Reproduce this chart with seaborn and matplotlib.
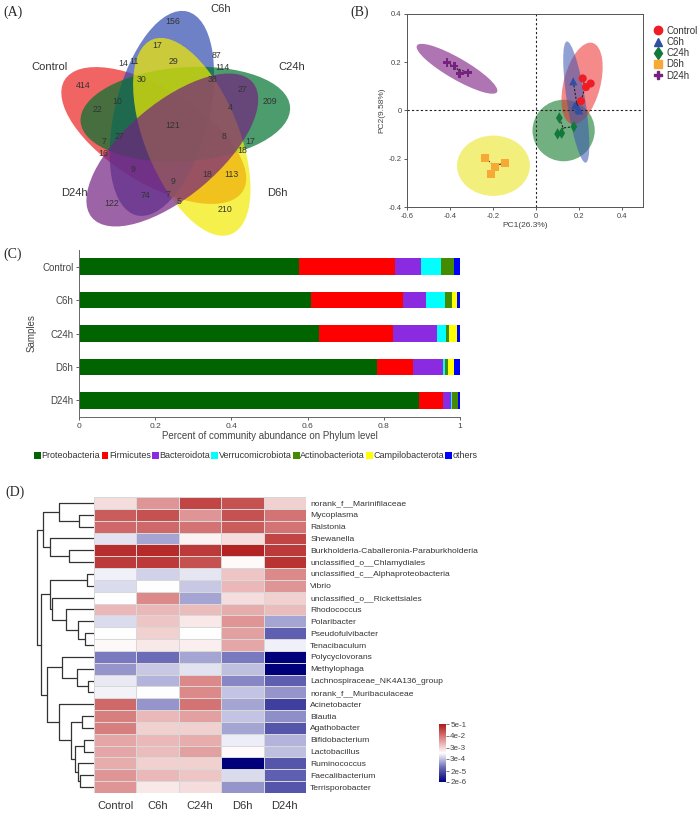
import numpy as np
import pandas as pd
import matplotlib
matplotlib.use('Agg')
import matplotlib.pyplot as plt
import seaborn as sns
from matplotlib.patches import Ellipse, Patch
from matplotlib.lines import Line2D
from matplotlib.colors import LinearSegmentedColormap

sns.set_style('white')
plt.rcParams['font.family'] = ['Liberation Sans', 'DejaVu Sans']

# ---------------- data ----------------
groups = ['Control', 'C6h', 'C24h', 'D6h', 'D24h']

# (A) venn counts
venn_counts = [156, 17, 87, 14, 11, 29, 114, 414, 30, 38, 27, 209, 22, 10, 4, 121, 8,
               27, 7, 17, 16, 18, 9, 18, 113, 9, 74, 7, 5, 122, 210]
venn_pos = [(173, 22), (157, 45), (216, 55), (123, 64), (134, 62), (173, 62), (222, 67),
            (83, 85), (142, 79), (213, 79), (242, 90), (270, 102), (97, 110), (117, 101),
            (230, 107), (173, 125), (224, 136), (119, 136), (104, 141), (250, 141),
            (103, 153), (242, 150), (133, 169), (207, 174), (231, 174), (173, 181),
            (145, 195), (168, 194), (179, 201), (112, 203), (225, 209)]
venn_label_pos = [(49, 67), (221, 9), (292, 67), (277, 193), (74, 193)]
venn_dirs = [162, 90, 18, -54, -126]
venn_colors = ['#eb2323', '#304baf', '#007330', '#f2eb00', '#732380']

# (B) PCoA
pc1 = {'Control': [0.219, 0.234, 0.256, 0.211],
       'C6h': [0.175, 0.183, 0.198, 0.203],
       'C24h': [0.110, 0.178, 0.102, 0.121],
       'D6h': [-0.236, -0.143, -0.189, -0.209],
       'D24h': [-0.414, -0.380, -0.355, -0.316]}
pc2 = {'Control': [0.133, 0.097, 0.112, 0.039],
       'C6h': [0.121, 0.021, 0.007, 0.0],
       'C24h': [-0.031, -0.067, -0.097, -0.094],
       'D6h': [-0.197, -0.218, -0.236, -0.264],
       'D24h': [0.199, 0.185, 0.153, 0.157]}
# ellipse: centre x, centre y, major, minor, angle
pc_ellipses = {'C24h': (0.13, -0.083, 0.29, 0.255, 0),
               'D6h': (-0.197, -0.229, 0.34, 0.25, 0),
               'D24h': (-0.367, 0.173, 0.42, 0.09, -27),
               'Control': (0.216, 0.112, 0.35, 0.17, 73),
               'C6h': (0.189, 0.035, 0.51, 0.085, 100)}
pt_colors = {'Control': '#ee1c25', 'C6h': '#2e4fa3', 'C24h': '#13793a', 'D6h': '#f7a935', 'D24h': '#76237f'}
ell_colors = {'Control': '#eb2b2b', 'C6h': '#3955b1', 'C24h': '#00701a', 'D6h': '#e9e311', 'D24h': '#6e0373'}
markers = {'Control': 'o', 'C6h': '^', 'C24h': 'd', 'D6h': 's', 'D24h': 'P'}

# (C) phylum composition
phyla = ['Proteobacteria', 'Firmicutes', 'Bacteroidota', 'Verrucomicrobiota',
         'Actinobacteriota', 'Campilobacterota', 'others']
phylum_colors = ['#006400', '#ff0000', '#8a2be2', '#00ffff', '#458b00', '#ffff00', '#0000ff']
proteo = [0.577, 0.608, 0.630, 0.783, 0.893]
firmi = [0.252, 0.242, 0.195, 0.093, 0.063]
bactero = [0.068, 0.062, 0.114, 0.080, 0.020]
verruco = [0.052, 0.049, 0.024, 0.005, 0.002]
actino = [0.035, 0.019, 0.008, 0.008, 0.016]
campilo = [0.0, 0.011, 0.020, 0.016, 0.0]
others = [0.016, 0.009, 0.009, 0.015, 0.006]

# (D) genus heatmap, log10 relative abundance
genera = ['norank_f__Marinifilaceae', 'Mycoplasma', 'Ralstonia', 'Shewanella',
          'Burkholderia-Caballeronia-Paraburkholderia', 'unclassified_o__Chlamydiales',
          'unclassified_c__Alphaproteobacteria', 'Vibrio', 'unclassified_o__Rickettsiales',
          'Rhodococcus', 'Polaribacter', 'Pseudofulvibacter', 'Tenacibaculum',
          'Polycyclovorans', 'Methylophaga', 'Lachnospiraceae_NK4A136_group',
          'norank_f__Muribaculaceae', 'Acinetobacter', 'Blautia', 'Agathobacter',
          'Bifidobacterium', 'Lactobacillus', 'Ruminococcus', 'Faecalibacterium',
          'Terrisporobacter']
log_abund = [
    [-2.60, -1.79, -0.84, -0.98, -2.46],
    [-1.11, -0.98, -1.79, -0.98, -1.38],
    [-1.25, -1.25, -1.38, -1.11, -1.38],
    [-3.27, -3.81, -2.87, -2.60, -0.84],
    [-0.57, -0.52, -0.71, -0.44, -0.71],
    [-0.71, -0.71, -0.98, -2.95, -0.62],
    [-3.14, -3.41, -3.22, -2.33, -1.65],
    [-3.32, -3.00, -3.49, -2.19, -1.79],
    [-3.00, -1.65, -3.81, -2.60, -2.46],
    [-2.19, -2.19, -2.24, -2.06, -2.24],
    [-3.32, -2.33, -2.73, -1.79, -3.81],
    [-3.00, -2.46, -3.00, -1.92, -4.49],
    [-2.92, -2.73, -2.81, -1.97, -3.14],
    [-4.22, -4.35, -3.81, -4.22, -5.70],
    [-3.95, -3.49, -3.27, -3.59, -5.70],
    [-3.19, -3.68, -1.65, -4.08, -4.49],
    [-3.11, -3.00, -1.65, -3.54, -3.95],
    [-1.25, -3.95, -1.38, -3.81, -4.89],
    [-1.52, -2.19, -1.92, -3.54, -4.03],
    [-1.52, -2.46, -2.46, -3.81, -4.62],
    [-1.97, -2.19, -2.06, -3.16, -3.68],
    [-1.97, -2.24, -1.92, -2.95, -3.59],
    [-2.06, -2.46, -2.46, -5.70, -4.62],
    [-1.79, -2.19, -2.33, -3.32, -4.49],
    [-1.79, -2.73, -2.60, -3.95, -4.62]]
cbar_labels = ['5e-1', '4e-2', '3e-3', '3e-4', '2e-5', '2e-6']

# row dendrogram (left, right, height)
clu_a = ((0, (1, 2, 44), 104), (3, (4, 5, 75), 130), 150)
clu_b = ((6, 7, 20), (8, (9, (10, (11, 12, 27), 47), 82), 124), 130)
clu_c = ((13, (14, (15, 16, 17), 49), 95),
         (17, ((18, 19, 37), ((20, 21, 30), (22, (23, 24, 42), 47), 55), 67), 104), 140)
row_tree = (clu_a, (clu_b, clu_c, 157), 170)

# ---------------- figure ----------------
W, H = 700, 813
fig = plt.figure(figsize=(W / 100, H / 100), dpi=100)


def px_axes(l, t, r, b):
    return fig.add_axes([l / W, 1 - b / H, (r - l) / W, (b - t) / H])


letter_font = dict(family=['Liberation Serif', 'DejaVu Serif'], fontsize=10)
fig.text(3 / W, 1 - 12 / H, '(A)', va='center', **letter_font)
fig.text(350 / W, 1 - 12 / H, '(B)', va='center', **letter_font)
fig.text(3 / W, 1 - 254 / H, '(C)', va='center', **letter_font)
fig.text(5 / W, 1 - 492 / H, '(D)', va='center', **letter_font)

# ---- (A) Venn ----
axa = px_axes(0, 0, 350, 250)
axa.set_xlim(0, 350)
axa.set_ylim(250, 0)
axa.axis('off')
ox, oy = 173, 130
for d, col in zip(venn_dirs, venn_colors):
    a = np.deg2rad(d + 34)
    cx, cy = ox + 20 * np.cos(a), oy - 20 * np.sin(a)
    axa.add_patch(Ellipse((cx, cy), 210, 94, angle=-(d - 14), facecolor=col,
                          edgecolor='none', alpha=0.7))
for n, (x, y) in zip(venn_counts, venn_pos):
    axa.text(x, y, str(n), ha='center', va='center', fontsize=6.3, color='#333333')
for g, (x, y) in zip(groups, venn_label_pos):
    axa.text(x, y, g, ha='center', va='center', fontsize=8, color='#333333')

# ---- (B) PCoA ----
axb = px_axes(407, 14, 643, 207)
for g in ['C24h', 'D6h', 'D24h', 'Control', 'C6h']:
    cx, cy, w, h, ang = pc_ellipses[g]
    axb.add_patch(Ellipse((cx, cy), w, h, angle=ang, facecolor=ell_colors[g],
                          edgecolor='none', alpha=0.55))
rows = []
for g in groups:
    mx, my = np.mean(pc1[g]), np.mean(pc2[g])
    for x, y in zip(pc1[g], pc2[g]):
        axb.plot([x, mx], [y, my], ls=(0, (2, 1.5)), color='#222222', lw=0.8)
        rows.append((x, y, g))
pc_df = pd.DataFrame(rows, columns=['PC1', 'PC2', 'group'])
sns.scatterplot(data=pc_df, x='PC1', y='PC2', hue='group', style='group',
                markers=markers, palette=pt_colors, s=34, edgecolor='none',
                legend=False, ax=axb, zorder=5)
axb.axhline(0, ls=(0, (2, 2)), color='#222222', lw=0.8)
axb.axvline(0, ls=(0, (2, 2)), color='#222222', lw=0.8)
axb.set_xlim(-0.6, 0.5)
axb.set_ylim(-0.4, 0.4)
axb.set_xticks([-0.6, -0.4, -0.2, 0, 0.2, 0.4])
axb.set_xticklabels(['-0.6', '-0.4', '-0.2', '0', '0.2', '0.4'])
axb.set_yticks([-0.4, -0.2, 0, 0.2, 0.4])
axb.set_yticklabels(['-0.4', '-0.2', '0', '0.2', '0.4'])
axb.tick_params(labelsize=5.5, length=2.5, width=0.6, colors='#444444', pad=1.5,
                bottom=True, left=True)
axb.set_xlabel('PC1(26.3%)', fontsize=6, color='#444444', labelpad=2)
axb.set_ylabel('PC2(9.58%)', fontsize=6, color='#444444', labelpad=2)
for s in axb.spines.values():
    s.set_linewidth(0.7)
    s.set_color('#555555')
pc_handles = [Line2D([], [], ls='none', marker=markers[g], color=pt_colors[g],
                     markersize=6, label=g) for g in groups]
fig.legend(handles=pc_handles, loc='upper left', bbox_to_anchor=(648 / W, 1 - 22 / H),
           frameon=False, fontsize=7, handletextpad=0.3, labelspacing=0.12,
           borderaxespad=0, handlelength=1.2, labelcolor='#333333')

# ---- (C) stacked bars ----
axc = px_axes(79, 250, 460, 417)
comp = pd.DataFrame({'sample': groups, 'Proteobacteria': proteo, 'Firmicutes': firmi,
                     'Bacteroidota': bactero, 'Verrucomicrobiota': verruco,
                     'Actinobacteriota': actino, 'Campilobacterota': campilo,
                     'others': others})
cum = comp[phyla].cumsum(axis=1)
for p, col in reversed(list(zip(phyla, phylum_colors))):
    sns.barplot(x=cum[p], y=comp['sample'], color=col, orient='h', width=0.5,
                saturation=1, ax=axc, linewidth=0)
axc.set_xlim(0, 1)
axc.set_ylim(4.5, -0.5)
axc.set_xticks([0, 0.2, 0.4, 0.6, 0.8, 1])
axc.set_xticklabels(['0', '0.2', '0.4', '0.6', '0.8', '1'])
axc.tick_params(axis='x', labelsize=6, length=2.5, width=0.6, colors='#444444', pad=1.5,
                bottom=True)
axc.tick_params(axis='y', labelsize=7, length=2.5, width=0.6, colors='#444444', pad=1.5,
                left=True)
axc.set_xlabel('Percent of community abundance on Phylum level', fontsize=7,
               color='#444444', labelpad=1)
axc.set_ylabel('Samples', fontsize=7, color='#444444', labelpad=4)
sns.despine(ax=axc)
for s in ['left', 'bottom']:
    axc.spines[s].set_linewidth(0.7)
    axc.spines[s].set_color('#666666')
ph_handles = [Patch(facecolor=c, edgecolor='none', label=p)
              for p, c in zip(phyla, phylum_colors)]
fig.legend(handles=ph_handles, loc='center', bbox_to_anchor=(256 / W, 1 - 456 / H),
           ncol=7, frameon=False, fontsize=6.5, handlelength=0.75, handleheight=0.75,
           handletextpad=0.05, columnspacing=0.15, borderaxespad=0, labelcolor='#333333')

# ---- (D) heatmap + dendrogram ----
axd = px_axes(94, 497, 306, 793)
cax = px_axes(439, 724, 446, 782)
cmap = LinearSegmentedColormap.from_list('bwr_dark', ['#00007a', '#6a6ab8', '#ffffff',
                                                       '#dc8a8a', '#b01818'])
hm = pd.DataFrame(log_abund, index=genera, columns=groups)
sns.heatmap(hm, ax=axd, cbar_ax=cax, cmap=cmap, vmin=-5.7, vmax=-0.3,
            linewidths=0.6, linecolor='#d8d8d8')
axd.yaxis.tick_right()
axd.set_yticks(np.arange(len(genera)) + 0.5)
axd.set_yticklabels(genera, rotation=0, fontsize=6.1, color='#333333')
axd.set_xticklabels(groups, rotation=0, fontsize=8, color='#333333')
axd.tick_params(length=0, pad=3)
axd.tick_params(axis='x', pad=6)
cax.set_yticks(np.log10([5e-1, 4e-2, 3e-3, 3e-4, 2e-5, 2e-6]))
cax.set_yticklabels(cbar_labels)
cax.tick_params(labelsize=5.8, length=2, width=0.5, pad=1, colors='#444444')

axt = px_axes(36, 497, 94, 793)
axt.set_ylim(len(genera), 0)
axt.set_xlim(172, 0)
axt.axis('off')


def draw_node(node):
    if isinstance(node, int):
        return node + 0.5, 0
    left, right, h = node
    yl, hl = draw_node(left)
    yr, hr = draw_node(right)
    axt.plot([hl, h, h, hr], [yl, yl, yr, yr], color='#333333', lw=0.9)
    return (yl + yr) / 2, h


draw_node(row_tree)

fig.savefig('out.png', dpi=100)
